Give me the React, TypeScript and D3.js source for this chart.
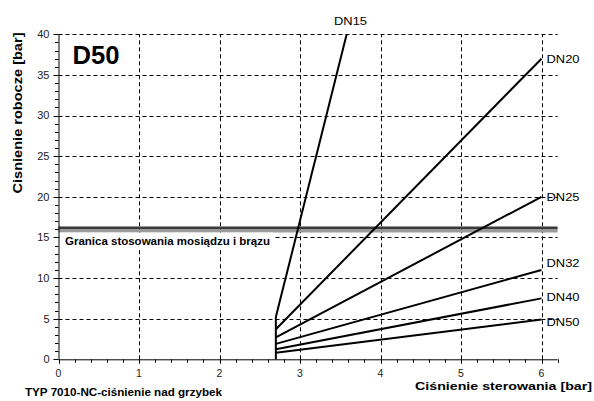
import React from "react";
import * as d3 from "d3";

const seriesNames = ["DN15", "DN20", "DN25", "DN32", "DN40", "DN50"];
const startX = 2.7;
const startY = [5.2, 3.7, 2.7, 1.9, 1.25, 0.8];
const endX = [3.58, 6, 6, 6, 6, 6];
const endY = [40, 37, 20, 11, 7.5, 4.9];
const labelY = [41.2, 37, 20, 11.85, 7.7, 4.6];
const limitValue = 16;
const xTicks = [0, 1, 2, 3, 4, 5, 6];
const yTicks = [0, 5, 10, 15, 20, 25, 30, 35, 40];

const W = 594;
const H = 401;
const FONT = "'Liberation Sans', Arial, Helvetica, sans-serif";

export default function App() {
  const x = d3.scaleLinear().domain([0, 6.2]).range([58.5, 58.5 + 6.2 * 80.5]);
  const y = d3.scaleLinear().domain([0, 40]).range([359.3, 34.3]);
  const xMinor = d3.range(0, 6.2001, 0.2);
  const yMinor = d3.range(0, 40.001, 1);
  const line = d3.line<[number, number]>().x((d) => x(d[0])).y((d) => y(d[1]));

  return (
    <svg width={W} height={H} style={{ position: "absolute", left: 0, top: 0, background: "#fff" }} fontFamily={FONT}>
      <rect x={0} y={0} width={W} height={H} fill="#fff" />
      {/* grid */}
      <g stroke="#000" strokeWidth={1} strokeDasharray="4,3" fill="none">
        {yTicks.filter((t) => t > 0).map((t) => (
          <line key={"hy" + t} x1={x(0)} x2={x(6.2)} y1={Math.round(y(t)) + 0.5} y2={Math.round(y(t)) + 0.5} />
        ))}
        {xTicks.filter((t) => t > 0).map((t) => (
          <line key={"vx" + t} x1={Math.round(x(t)) + 0.5} x2={Math.round(x(t)) + 0.5} y1={y(0)} y2={y(40)} />
        ))}
      </g>
      {/* limit band */}
      <line x1={x(0)} x2={x(6.2)} y1={y(limitValue) - 1.3} y2={y(limitValue) - 1.3} stroke="#3a3a3a" strokeWidth={3} />
      <line x1={x(0)} x2={x(6.2)} y1={y(limitValue) + 1.7} y2={y(limitValue) + 1.7} stroke="#9a9a9a" strokeWidth={3} />
      <rect x={x(0) + 1} y={y(limitValue) + 3.3} width={273 - x(0) - 1} height={17} fill="#fff" />
      <text x={65} y={245} fontSize={10.5} fontWeight="bold" fill="#000" textLength={205} lengthAdjust="spacingAndGlyphs">
        Granica stosowania mosiądzu i brązu
      </text>
      {/* series */}
      <line x1={x(startX)} x2={x(startX)} y1={y(0)} y2={y(d3.max(startY) as number)} stroke="#000" strokeWidth={2} />
      {seriesNames.map((s, i) => (
        <path key={s} d={line([[startX, startY[i]], [endX[i], endY[i]]]) || ""} stroke="#000" strokeWidth={2} fill="none" />
      ))}
      {seriesNames.map((s, i) =>
        i === 0 ? (
          <text key={"l" + s} x={334} y={y(labelY[i])} fontSize={11.5} fill="#000" textLength={33} lengthAdjust="spacingAndGlyphs">
            {s}
          </text>
        ) : (
          <text key={"l" + s} x={x(endX[i]) + 5} y={y(labelY[i])} dy="0.36em" fontSize={11.5} fill="#000" textLength={33} lengthAdjust="spacingAndGlyphs">
            {s}
          </text>
        )
      )}
      {/* axes */}
      <g stroke="#000" strokeWidth={1} fill="none">
        <line x1={x(0) + 0.5} x2={x(0) + 0.5} y1={y(0)} y2={y(40)} />
        <line x1={x(0)} x2={x(6.2)} y1={y(0) + 0.5} y2={y(0) + 0.5} />
        {yMinor.map((t) => (
          <line key={"ym" + t} x1={x(0) - (t % 5 === 0 ? 5 : 3.5)} x2={x(0)} y1={Math.round(y(t)) + 0.5} y2={Math.round(y(t)) + 0.5} />
        ))}
        {xMinor.map((t) => (
          <line key={"xm" + t} x1={Math.round(x(t)) + 0.5} x2={Math.round(x(t)) + 0.5} y1={y(0)} y2={y(0) + (Math.abs(t - Math.round(t)) < 1e-6 ? 4.5 : 3.5)} />
        ))}
      </g>
      {yTicks.map((t) => (
        <text key={"yt" + t} x={49.5} y={y(t)} dy="0.35em" fontSize={11} textAnchor="end" fill="#222">
          {t}
        </text>
      ))}
      {xTicks.map((t) => (
        <text key={"xt" + t} x={x(t)} y={377} fontSize={10.5} textAnchor="middle" fill="#222">
          {t}
        </text>
      ))}
      {/* titles */}
      <text x={72.5} y={64} fontSize={25.5} fontWeight="bold" fill="#000" textLength={47} lengthAdjust="spacingAndGlyphs">
        D50
      </text>
      <text transform="translate(22,113) rotate(-90)" fontSize={12} fontWeight="bold" textAnchor="middle" fill="#000" textLength={161} lengthAdjust="spacingAndGlyphs">
        Cisnienie robocze [bar]
      </text>
      <text x={415} y={390} fontSize={11.5} fontWeight="bold" fill="#000" textLength={177} lengthAdjust="spacingAndGlyphs">
        Ciśnienie sterowania [bar]
      </text>
      <text x={25} y={396} fontSize={11.5} fontWeight="bold" fill="#000" textLength={197} lengthAdjust="spacingAndGlyphs">
        TYP 7010-NC-ciśnienie nad grzybek
      </text>
    </svg>
  );
}
